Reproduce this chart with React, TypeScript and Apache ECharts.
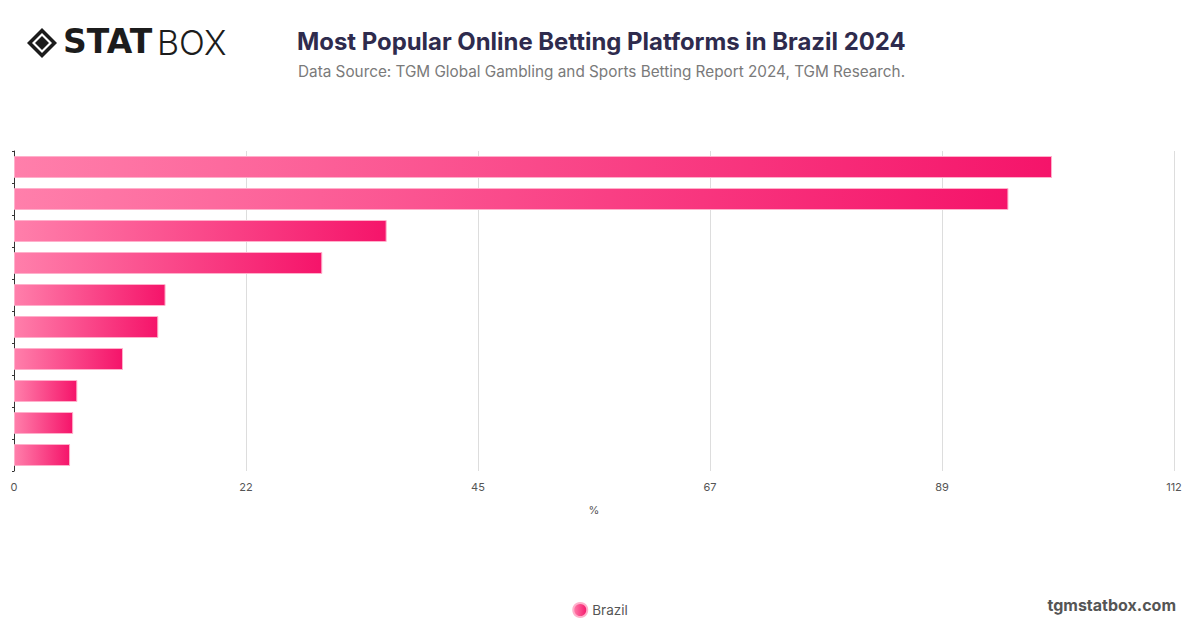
import React, { useEffect, useRef } from "react";
import * as echarts from "echarts";

const platforms = [
  "Bet365",
  "Betano",
  "Sportingbet",
  "Betfair",
  "Pixbet",
  "KTO",
  "Betnacional",
  "Estrela Bet",
  "Blaze",
  "Novibet",
];
const shares = [100, 95.8, 35.9, 29.7, 14.6, 13.9, 10.5, 6.1, 5.7, 5.4];
const xMax = 111.75;
const xInterval = 22.35;
const seriesName = "Brazil";

export default function App() {
  const ref = useRef<HTMLDivElement>(null);
  useEffect(() => {
    if (!ref.current) return;
    const chart = echarts.init(ref.current, null, { renderer: "svg" });
    const barGradient = new echarts.graphic.LinearGradient(0, 0, 1, 0, [
      { offset: 0, color: "#ff7fab" },
      { offset: 1, color: "#f5146a" },
    ]);
    chart.setOption({
      animation: false,
      backgroundColor: "#ffffff",
      title: [
        {
          text: "Most Popular Online Betting Platforms in Brazil 2024",
          left: 292,
          top: 24,
          textStyle: {
            fontFamily: "Inter, Roboto, sans-serif",
            fontSize: 23.9,
            fontWeight: "bold",
            color: "#2e2b4d",
          },
        },
        {
          text: "Data Source: TGM Global Gambling and Sports Betting Report 2024, TGM Research.",
          left: 293,
          top: 59,
          textStyle: {
            fontFamily: "Inter, Roboto, sans-serif",
            fontSize: 15.3,
            fontWeight: "normal",
            color: "#7a7a7a",
          },
        },
      ],
      legend: {
        bottom: 5,
        left: "center",
        icon: "circle",
        itemWidth: 14,
        itemHeight: 14,
        itemGap: 8,
        textStyle: {
          fontFamily: "Inter, Roboto, sans-serif",
          fontSize: 13.5,
          color: "#555",
        },
        data: [seriesName],
      },
      grid: { left: 14, right: 26, top: 151, bottom: 157, containLabel: false },
      xAxis: {
        type: "value",
        min: 0,
        max: xMax,
        interval: xInterval,
        name: "%",
        nameLocation: "middle",
        nameGap: 33,
        nameTextStyle: { fontFamily: "Inter, Roboto, sans-serif", fontSize: 11, color: "#555" },
        axisLine: { show: false },
        axisTick: { show: false },
        axisLabel: {
          fontFamily: "Inter, Roboto, sans-serif",
          fontSize: 11,
          color: "#555",
          margin: 10,
          formatter: (v: number) => String(Math.round(v)),
        },
        splitLine: { show: true, lineStyle: { color: "#dddddd", width: 1 } },
      },
      yAxis: {
        type: "category",
        inverse: true,
        data: platforms,
        axisLine: { show: true, lineStyle: { color: "#333", width: 1 } },
        axisTick: { show: true, length: 2, lineStyle: { color: "#333" } },
        axisLabel: { show: false },
      },
      series: [
        {
          name: seriesName,
          type: "bar",
          data: shares,
          barWidth: 22,
          itemStyle: {
            color: barGradient,
            borderColor: "#ffb0cb",
            borderWidth: 1,
          },
        },
      ],
      graphic: [
        {
          type: "group",
          left: 27,
          top: 25,
          children: [
            {
              type: "polygon",
              shape: { points: [[15, 0], [30, 15], [15, 30], [0, 15]] },
              style: { fill: "#1c1c1c" },
            },
            {
              type: "polygon",
              shape: { points: [[15, 5], [25, 15], [15, 25], [5, 15]] },
              style: { fill: "#ffffff" },
            },
            {
              type: "polygon",
              shape: { points: [[15, 8], [22, 15], [15, 22], [8, 15]] },
              style: { fill: "#1c1c1c" },
            },
            {
              type: "text",
              x: 36,
              y: -3,
              style: {
                text: "STAT",
                fontFamily: "'DejaVu Sans', Inter, sans-serif",
                fontSize: 33,
                fontWeight: 900,
                fill: "#1c1c1c",
              },
            },
            {
              type: "text",
              x: 130,
              y: -3,
              style: {
                text: "BOX",
                fontFamily: "Inter, 'Open Sans', sans-serif",
                fontSize: 34,
                fontWeight: 300,
                fill: "#1c1c1c",
              },
            },
          ],
        },
        {
          type: "text",
          right: 24,
          top: 597,
          style: {
            text: "tgmstatbox.com",
            fontFamily: "Inter, Roboto, sans-serif",
            fontSize: 16,
            fontWeight: "bold",
            fill: "#555",
          },
        },
      ],
    });
    return () => chart.dispose();
  }, []);
  return <div ref={ref} style={{ width: 1200, height: 628, position: "fixed", left: 0, top: 0 }} />;
}
